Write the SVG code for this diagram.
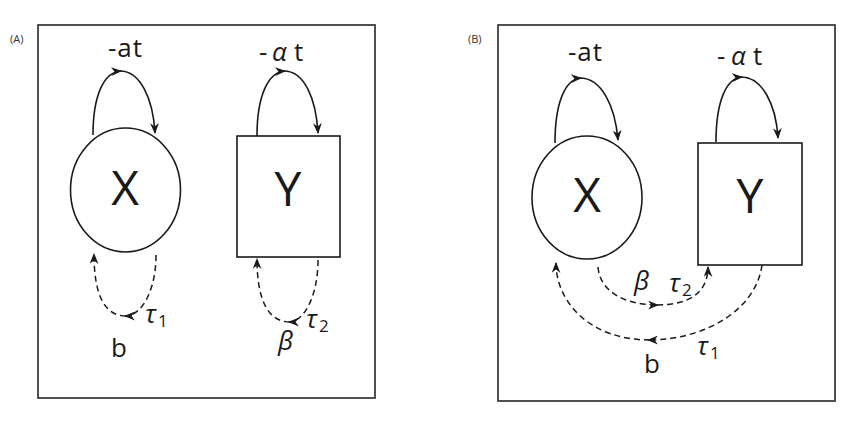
<svg xmlns="http://www.w3.org/2000/svg" width="860" height="427" viewBox="0 0 860 427">
<style>
.frame{fill:none;stroke:#333;stroke-width:1.7}
.node{fill:#fff;stroke:#1a1a1a;stroke-width:1.6}
.solid{fill:none;stroke:#1a1a1a;stroke-width:1.6}
.dash{fill:none;stroke:#1a1a1a;stroke-width:1.5;stroke-dasharray:6,4}
.big{font-family:"Open Sans","DejaVu Sans",sans-serif;font-size:48px;fill:#1a1a1a;text-anchor:middle}
.lbl{font-family:"Open Sans","DejaVu Sans",sans-serif;font-size:26px;fill:#1a1a1a}
.gr{font-family:"Open Sans","DejaVu Sans",sans-serif;font-size:26px;fill:#1a1a1a;font-style:italic}
.sub{font-family:"Open Sans","DejaVu Sans",sans-serif;font-size:17px;fill:#1a1a1a}
.tag{font-family:"Open Sans","DejaVu Sans",sans-serif;font-size:11px;fill:#333}
</style>
<defs>
<marker id="ah" viewBox="0 0 10 8" refX="9" refY="4" markerWidth="11" markerHeight="9" markerUnits="userSpaceOnUse" orient="auto">
<path d="M0,0 L10,4 L0,8 L3,4 Z" fill="#1a1a1a"/>
</marker>
</defs>
<rect width="860" height="427" fill="#fff"/>

<g id="panelA">
<text class="tag" x="10" y="43">(A)</text>
<rect class="frame" x="38" y="25" width="337" height="373"/>
</g>
<g id="panelB">
<text class="tag" x="468" y="43">(B)</text>
<rect class="frame" x="498" y="25" width="337" height="376"/>
</g>

<g id="A-X">
<ellipse class="node" cx="125.5" cy="190" rx="55" ry="62"/>
<text class="big" x="125" y="205">X</text>
</g>
<g id="A-Y">
<rect class="node" x="237" y="136" width="103" height="121"/>
<text class="big" x="288" y="206">Y</text>
</g>
<g id="B-X">
<ellipse class="node" cx="587" cy="197.5" rx="55" ry="61.5"/>
<text class="big" x="587" y="212">X</text>
</g>
<g id="B-Y">
<rect class="node" x="698" y="143" width="104" height="122"/>
<text class="big" x="750" y="213">Y</text>
</g>

<g id="connectors">
<path class="solid" d="M93,135 C93,95 104,72 121,71" marker-end="url(#ah)"/>
<path class="solid" d="M120,71 C140,71 153,98 155,133" marker-end="url(#ah)"/>
<path class="solid" d="M257,136 C257,96 268,72 285,71" marker-end="url(#ah)"/>
<path class="solid" d="M284,71 C304,71 316,98 318,133" marker-end="url(#ah)"/>
<path class="dash" d="M156,255 C156,290 142,316 125,316" marker-end="url(#ah)"/>
<path class="dash" d="M126,316 C103,316 94,292 94,254" marker-end="url(#ah)"/>
<path class="dash" d="M318,260 C318,296 304,322 289,322" marker-end="url(#ah)"/>
<path class="dash" d="M290,322 C266,322 257,296 257,259" marker-end="url(#ah)"/>
<path class="solid" d="M555,143 C555,103 565,79 581,78" marker-end="url(#ah)"/>
<path class="solid" d="M580,78 C601,78 615,105 618,140" marker-end="url(#ah)"/>
<path class="solid" d="M716,142 C716,102 726,78 742,77" marker-end="url(#ah)"/>
<path class="solid" d="M741,77 C762,77 776,104 778,138" marker-end="url(#ah)"/>
<path class="dash" d="M598,267 C600,292 625,305 658,305" marker-end="url(#ah)"/>
<path class="dash" d="M657,305 C690,305 708,292 708,267" marker-end="url(#ah)"/>
<path class="dash" d="M762,265 C756,310 705,340 648,340" marker-end="url(#ah)"/>
<path class="dash" d="M650,340 C590,340 556,302 556,263" marker-end="url(#ah)"/>
</g>

<g id="labels">
<text class="lbl" x="108" y="57" letter-spacing="1">-at</text>
<text class="lbl" x="259" y="61">-</text><text class="gr" x="272" y="61">α</text><text class="lbl" x="294" y="61">t</text>
<text class="gr" x="145" y="323">τ</text><text class="sub" x="158" y="327">1</text>
<text class="lbl" x="111" y="357">b</text>
<text class="gr" x="306" y="328">τ</text><text class="sub" x="319" y="332">2</text>
<text class="gr" x="278" y="350">β</text>

<text class="lbl" x="568" y="61" letter-spacing="1">-at</text>
<text class="lbl" x="717" y="65">-</text><text class="gr" x="731" y="65">α</text><text class="lbl" x="753" y="65">t</text>
<text class="gr" x="634" y="290">β</text>
<text class="gr" x="669" y="292">τ</text><text class="sub" x="682" y="296">2</text>
<text class="lbl" x="644" y="373">b</text>
<text class="gr" x="697" y="355">τ</text><text class="sub" x="710" y="359">1</text>
</g>
</svg>
